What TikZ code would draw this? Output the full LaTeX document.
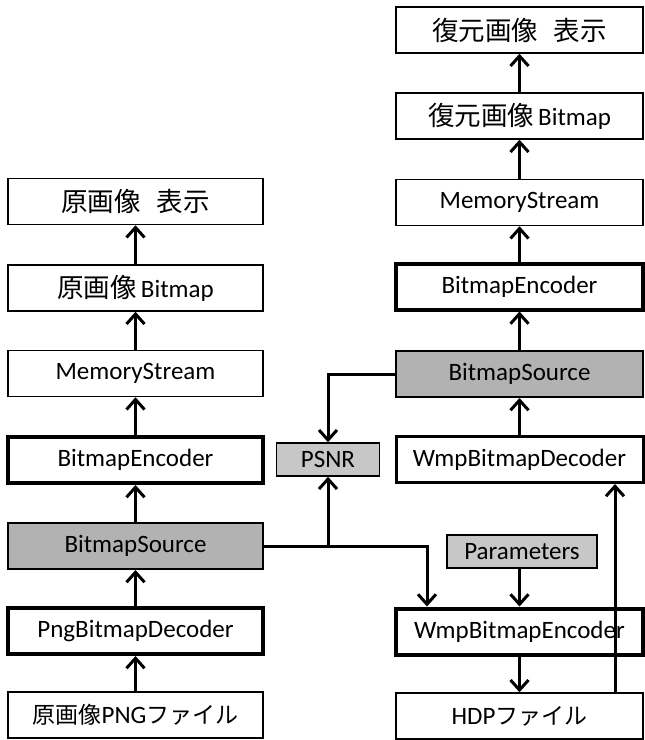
\documentclass[tikz,border=0pt]{standalone}
\usepackage{fontspec}
\setmainfont{Carlito}
\newfontfamily\cjk{Noto Sans CJK JP}
\newcommand\jtxt[1]{{\cjk\fontsize{23}{28}\selectfont #1}}
\newcommand\jbig[1]{{\cjk\fontsize{26.5}{30}\selectfont #1}}
\usetikzlibrary{arrows.meta}
\definecolor{srcgray}{gray}{0.70}
\definecolor{smgray}{gray}{0.78}
\begin{document}
\begin{tikzpicture}[x=1pt,y=-1pt,
  box/.style={draw, line width=1.5pt, minimum height=46pt, inner sep=0pt, fill=white,
    font=\fontsize{25}{30}\selectfont},
  lbox/.style={box, minimum width=255pt},
  rbox/.style={box, minimum width=247pt},
  thickbox/.style={line width=4pt},
  midbox/.style={line width=3pt},
  graybox/.style={fill=srcgray, line width=2pt},
  smallbox/.style={draw, line width=1.5pt, fill=smgray, minimum height=33pt, inner sep=0pt,
    font=\fontsize{25}{30}\selectfont},
  arr/.style={line width=3pt, -{Straight Barb[length=10pt,width=18pt]}},
  ln/.style={line width=3pt}]
\useasboundingbox (0,0) rectangle (645,740);
% left column
\node[lbox] (ldisp) at (135.5,201.5) {\jbig{原画像\hspace{0.6em}表示}};
\node[lbox] (lbmp) at (135.5,288) {\jbig{原画像}\,Bitmap};
\node[lbox] (lms) at (135.5,373.5) {MemoryStream};
\node[lbox,thickbox] (lenc) at (135.5,460) {BitmapEncoder};
\node[lbox,graybox] (lbs) at (135.5,546) {BitmapSource};
\node[lbox,thickbox] (lpdec) at (135.5,631) {PngBitmapDecoder};
\node[lbox] (lpng) at (135.5,715) {\jtxt{原画像}PNG\jtxt{ファイル}};
% right column
\node[rbox] (rdisp) at (519.5,30) {\jbig{復元画像\hspace{0.6em}表示}};
\node[rbox] (rbmp) at (519.5,116) {\jbig{復元画像}\,Bitmap};
\node[rbox] (rms) at (519.5,202.5) {MemoryStream};
\node[rbox,thickbox] (renc) at (519.5,286.5) {BitmapEncoder};
\node[rbox,graybox] (rbs) at (519.5,374) {BitmapSource};
\node[rbox,midbox] (wdec) at (519.5,459.5) {WmpBitmapDecoder};
\node[rbox,thickbox] (wenc) at (519.5,631.5) {WmpBitmapEncoder};
\node[rbox] (hdp) at (519.5,716) {HDP\jtxt{ファイル}};
% small boxes
\node[smallbox, minimum width=103pt] (psnr) at (328,459.5) {PSNR};
\node[smallbox, minimum width=150pt] (param) at (522,551.5) {Parameters};
\coordinate (j1) at (427,0);
\coordinate (j2) at (615,0);
% left arrows
\draw[arr] (lpng.north) -- (lpdec.south);
\draw[arr] (lpdec.north) -- (lbs.south);
\draw[arr] (lbs.north) -- (lenc.south);
\draw[arr] (lenc.north) -- (lms.south);
\draw[arr] (lms.north) -- (lbmp.south);
\draw[arr] (lbmp.north) -- (ldisp.south);
% right arrows
\draw[arr] (wdec.north) -- (rbs.south);
\draw[arr] (rbs.north) -- (renc.south);
\draw[arr] (renc.north) -- (rms.south);
\draw[arr] (rms.north) -- (rbmp.south);
\draw[arr] (rbmp.north) -- (rdisp.south);
% cross connections
\draw[arr] (lbs.east) -| (wenc.north -| j1);
\draw[arr] (psnr.south |- lbs.east) -- (psnr.south);
\draw[arr] (rbs.west) -| (psnr.north);
\draw[arr] (param.south -| wenc.north) -- (wenc.north);
\draw[arr] (wenc.south) -- (hdp.north);
\draw[arr] (hdp.north -| j2) -- (wdec.south -| j2);
\end{tikzpicture}
\end{document}
